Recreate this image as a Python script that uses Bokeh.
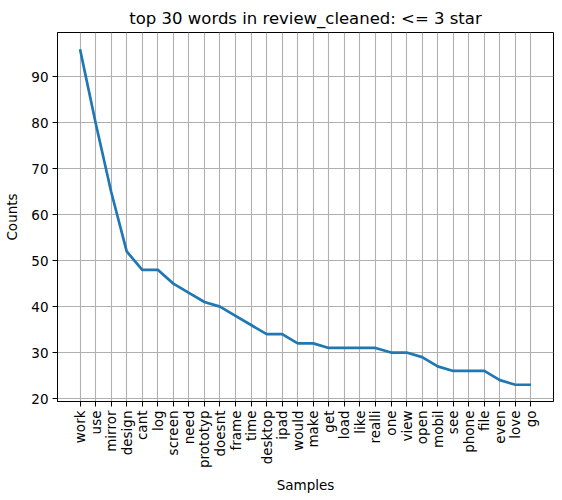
import math
from bokeh.plotting import figure
from bokeh.models import FactorRange, Range1d, FixedTicker
from bokeh.embed import file_html
from bokeh.resources import INLINE

words = ["work", "use", "mirror", "design", "cant", "log", "screen", "need",
         "prototyp", "doesnt", "frame", "time", "desktop", "ipad", "would",
         "make", "get", "load", "like", "realli", "one", "view", "open",
         "mobil", "see", "phone", "file", "even", "love", "go"]
counts = [96, 80, 65, 52, 48, 48, 45, 43, 41, 40, 38, 36, 34, 34, 32,
          32, 31, 31, 31, 31, 30, 30, 29, 27, 26, 26, 26, 24, 23, 23]
y_ticks = [20, 30, 40, 50, 60, 70, 80, 90]

FONT = "DejaVu Sans"

p = figure(width=562, height=500, output_backend="svg", toolbar_location=None,
           x_range=FactorRange(factors=words, range_padding=0.95,
                               range_padding_units="absolute"),
           y_range=Range1d(19.35, 99.65),
           title="top 30 words in review_cleaned: <= 3 star",
           min_border_left=57, min_border_right=9, min_border_top=32,
           min_border_bottom=99)

p.line(words, counts, line_color="#1f77b4", line_width=2.7)

p.title.align = "center"
p.title.text_font = FONT
p.title.text_font_style = "normal"
p.title.text_font_size = "16.5px"
p.title.text_color = "black"

p.outline_line_color = "black"
p.outline_line_width = 1
p.outline_line_alpha = 1

for ax in (p.xaxis[0], p.yaxis[0]):
    ax.major_label_text_font = FONT
    ax.major_label_text_font_size = "13.5px"
    ax.major_label_text_color = "black"
    ax.axis_label_text_font = FONT
    ax.axis_label_text_font_size = "13.5px"
    ax.axis_label_text_font_style = "normal"
    ax.axis_label_text_color = "black"
    ax.major_tick_in = 0
    ax.major_tick_out = 5
    ax.minor_tick_line_color = None
    ax.axis_line_color = "black"
    ax.major_tick_line_color = "black"
    ax.major_label_standoff = 4

p.xaxis.axis_label = "Samples"
p.yaxis.axis_label = "Counts"
p.xaxis.major_label_orientation = math.pi / 2
p.yaxis.ticker = FixedTicker(ticks=y_ticks)
p.yaxis.axis_label_standoff = 8
p.xaxis.axis_label_standoff = 6

p.xgrid.grid_line_color = "#b0b0b0"
p.ygrid.grid_line_color = "#b0b0b0"
p.xgrid.grid_line_width = 1.1
p.ygrid.grid_line_width = 1.1

p.background_fill_color = "white"
p.border_fill_color = "white"

open("out.html", "w").write(file_html(p, INLINE))
